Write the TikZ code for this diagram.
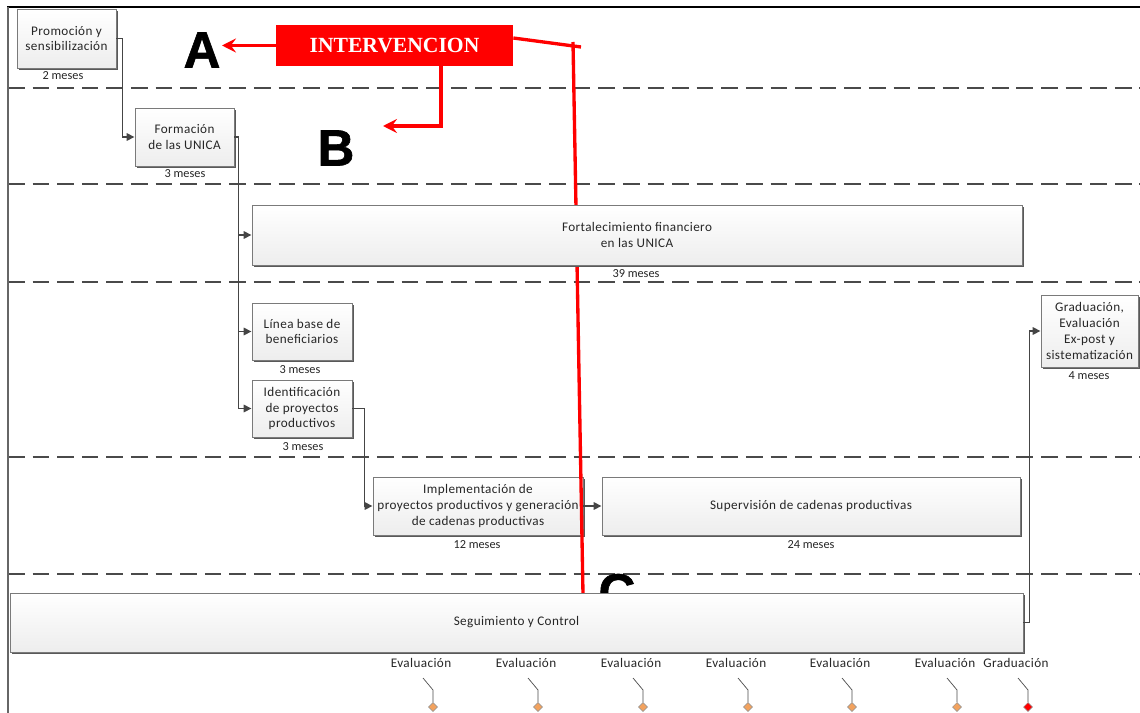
\documentclass[tikz,border=0pt]{standalone}
\usepackage{fontspec}
\setmainfont{Carlito}
\newfontfamily\spacedfont[LetterSpace=3]{Carlito}
\newfontfamily\serifbf{Liberation Serif}
\newfontfamily\heavyfont[BoldFeatures={FakeBold=1.2}]{Liberation Sans}
\usetikzlibrary{arrows.meta,shapes.geometric,shadows}
\definecolor{dashgray}{HTML}{4A4A4A}
\definecolor{conngray}{HTML}{454545}
\definecolor{boxborder}{HTML}{7A7A7A}
\definecolor{boxtext}{HTML}{262626}
\definecolor{milestone}{HTML}{F2A25E}
% task box from pixel corners (x1,y1)-(x2,y2)
\newcommand\taskbox[6][]{%
  \node[box,#1, minimum width={(#5-#3)*0.02cm}, minimum height={(#6-#4)*0.02cm}]
    (#2) at ({(#3+#5)/2},{(#4+#6)/2})}
\begin{document}
\begin{tikzpicture}[x=0.02cm,y=-0.02cm,
  box/.style={draw=boxborder, line width=0.5pt, top color=white, bottom color=black!7,
    inner sep=0pt, align=center, text=boxtext, font=\spacedfont\fontsize{7.5}{9}\selectfont,
    drop shadow={shadow xshift=0.9pt, shadow yshift=-0.9pt, fill=black!65, opacity=1}},
  dur/.style={font=\fontsize{7}{8}\selectfont, inner sep=0pt, text=boxtext},
  lane/.style={draw=dashgray, line width=1.1pt, dash pattern=on 9.5pt off 4.5pt},
  conn/.style={draw=conngray, line width=1pt, -{Triangle[length=4.5pt,width=4.2pt]}},
  redline/.style={draw=red, line width=1.9pt},
  redarr/.style={draw=red, line width=1.8pt, -{Stealth[length=8pt,width=8pt,inset=3pt]}},
  bigletter/.style={font=\heavyfont\bfseries\fontsize{29}{29}\selectfont, inner sep=1pt},
  mslabel/.style={font=\spacedfont\fontsize{7.5}{8}\selectfont, inner sep=0pt, text=boxtext},
  leader/.style={draw=black!70, line width=0.4pt},
  msdiamond/.style={diamond, draw=black!45, line width=0.3pt, fill=milestone, inner sep=0pt, minimum size=0.18cm}
]
\useasboundingbox (0,0) rectangle (1140,713);
\fill[white] (0,0) rectangle (1140,713);

% lanes
\foreach \y in {88,184,282,457,574} {
  \draw[lane] (8,\y) -- (1140,\y);
}
% frame
\draw[black, line width=0.8pt] (7,7) -- (1140,7);
\draw[black!60, line width=1pt] (8,7) -- (8,713);

% big letters
\node[bigletter] (A) at (202,50) {A};
\node[bigletter] (B) at (336,148) {B};
\node[bigletter] (C) at (617,592) {C};

% boxes
\taskbox{p}{17}{9}{116}{68} {Promoción y\\sensibilización};
\taskbox{f}{135}{108}{234}{166} {Formación\\de las UNICA};
\taskbox{lb}{252}{303}{352}{360} {Línea base de\\beneficiarios};
\taskbox{id}{252}{380}{352}{437} {Identificación\\de proyectos\\productivos};
\taskbox{imp}{373}{477}{583}{535} {Implementación de\\proyectos productivos y generación\\de cadenas productivas};
\taskbox{sup}{602}{477}{1020}{535} {Supervisión de cadenas productivas};
\taskbox{grad}{1041}{295}{1138}{367} {Graduación,\\Evaluación\\Ex-post y\\sistematización};

% red intervention
\node[fill=red, inner sep=0pt, minimum width={237*0.02cm}, minimum height={41*0.02cm},
  font=\serifbf\bfseries\fontsize{12.3}{12.3}\selectfont, text=white] (iv) at (394.5,45.5) {INTERVENCION};
\coordinate (aend) at (222,45.5);
\draw[redarr] (iv.west) -- (aend);
\coordinate (bend) at (383,126);
\draw[redarr] ([xshift=0.93cm]iv.south) |- (bend);
\coordinate (c1) at (581,47);
\coordinate (c2) at (573,42);
\coordinate (c3) at (583,594);
\draw[redline] ([yshift=0.15cm]iv.east) -- (c1);
\draw[redline] (c2) -- (c3);

% boxes drawn over the red line
\taskbox{fort}{252}{205}{1022}{265} {Fortalecimiento financiero\\en las UNICA};
\taskbox{seg}{10}{593}{1023}{652} {Seguimiento y Control};

% durations
\node[dur] (dp) at (63,76) {2 meses};
\node[dur] (df) at (185,174) {3 meses};
\node[dur] (dfort) at (636,274) {39 meses};
\node[dur] (dlb) at (300,370) {3 meses};
\node[dur] (did) at (303,447) {3 meses};
\node[dur] (dimp) at (477,545) {12 meses};
\node[dur] (dsup) at (811,545) {24 meses};
\node[dur] (dgrad) at (1089,376) {4 meses};

% connectors
\draw[conn] (p.east) -- ++(6,0) |- (f.west);
\draw[conn] (f.east) -- ++(4,0) coordinate (v) |- (fort.west);
\draw[conn] (v) |- (lb.west);
\draw[conn] (v) |- (id.west);
\draw[conn] (id.east) -- ++(12,0) |- (imp.west);
\draw[conn] (imp.east) -- (sup.west);
\draw[conn] (seg.east) -- ++(6,0) |- (grad.west);

% milestones
\foreach \i/\dx/\lab/\col in {1/433/Evaluación/milestone, 2/538/Evaluación/milestone, 3/643/Evaluación/milestone, 4/748/Evaluación/milestone, 5/852/Evaluación/milestone, 6/957/Evaluación/milestone, 7/1028/Graduación/red} {
  \node[mslabel] (ml\i) at (\dx-12,663) {\lab};
  \node[msdiamond, fill=\col] (md\i) at (\dx,707) {};
  \draw[leader] (\dx-10,678) -- (\dx,690) -- (md\i.north);
}
\end{tikzpicture}
\end{document}
